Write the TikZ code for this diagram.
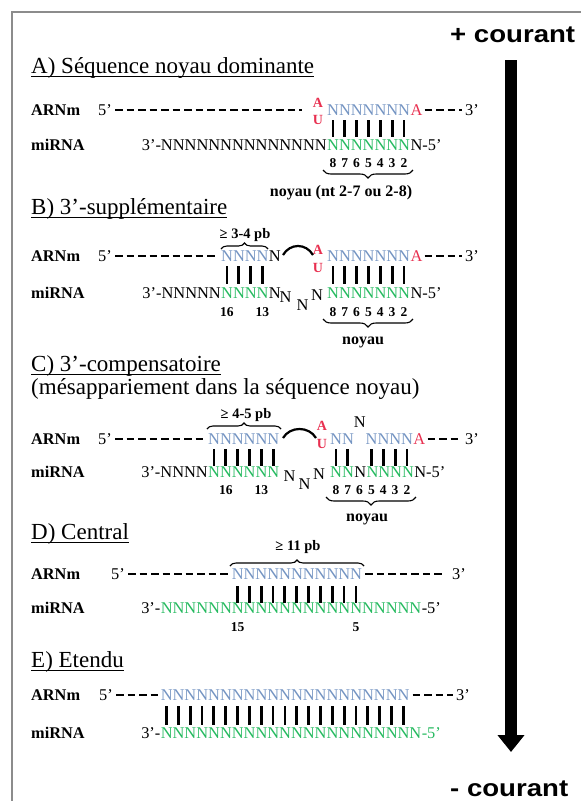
\documentclass[tikz,border=0pt]{standalone}
\usepackage{fontspec}
\setmainfont{Liberation Serif}
\newfontfamily\arialfont{Liberation Sans}
\usetikzlibrary{arrows.meta,decorations.pathreplacing}
\definecolor{mrnaclr}{RGB}{116,148,194}
\definecolor{mirclr}{RGB}{38,186,96}
\definecolor{auclr}{RGB}{232,48,80}
\definecolor{frameclr}{RGB}{140,140,140}
\newcommand{\nts}[1]{\foreach \j in {1,...,#1}{N}}
\def\w{11.84}
\tikzset{
  seq/.style={font=\fontsize{16.4}{18}\selectfont, inner sep=0pt, anchor=base west},
  rowlbl/.style={font=\bfseries\fontsize{16.3}{18}\selectfont, inner sep=0pt, anchor=base west},
  heading/.style={font=\fontsize{23}{26}\selectfont, inner sep=0pt, anchor=base west},
  nbr/.style={font=\bfseries\fontsize{13.5}{14}\selectfont, inner sep=0pt, anchor=base},
  note/.style={font=\bfseries\fontsize{16}{17}\selectfont, inner sep=0pt, anchor=base},
  pb/.style={font=\bfseries\fontsize{14.5}{16}\selectfont, inner sep=0pt, anchor=base},
  au/.style={font=\bfseries\fontsize{14}{15}\selectfont, text=auclr, inner sep=0pt, anchor=base},
  courant/.style={font=\arialfont\bfseries\fontsize{24}{26}\selectfont, inner sep=0pt, anchor=base west},
  backbone/.style={line width=2.1pt, dash pattern=on 7.5pt off 4pt},
  bond/.style={line width=2.8pt},
  loopline/.style={line width=2.2pt},
  uline/.style={line width=1.1pt},
  upbrace/.style={decorate, decoration={brace, amplitude=6pt}, line width=1.1pt},
  downbrace/.style={decorate, decoration={brace, mirror, amplitude=8pt}, line width=1.1pt},
  frameline/.style={frameclr, line width=2.5pt},
  bigarrow/.style={line width=12pt, -{Triangle[width=26pt,length=17pt]}}
}
\begin{document}
\begin{tikzpicture}[x=1pt,y=-1pt]
  \useasboundingbox (0,0) rectangle (581,801);
  \draw[frameline] (581,12) -- (12,12) -- (12,801);
  \node[courant] (plus) at (450,42) {\scalebox{1.15}[1]{+ courant}};
  \node[courant] (minus) at (450,796) {\scalebox{1.15}[1]{- courant}};
  \coordinate (arrtop) at (511,60);
  \coordinate (arrbot) at (511,752);
  \draw[bigarrow] (arrtop) -- (arrbot);

  % A) sequence noyau dominante
  \node[heading] (hA) at (31,73) {A) Séquence noyau dominante};
  \draw[uline] ([yshift=-3.5pt]hA.base west) -- ([yshift=-3.5pt]hA.base east);
  \node[rowlbl] (arnmA) at (31,115) {ARNm};
  \node[rowlbl] (mirA) at (31,150) {miRNA};
  \node[seq] (fiveA) at (98,115) {5’};
  \node[au] (aA) at (318,107) {A};
  \node[au] (uA) at (318,124) {U};
  \node[seq, text=mrnaclr] (seedA) at (327,115) {\nts{7}};
  \node[seq, text=auclr] (endA) at (seedA.base east) {A};
  \node[seq] (threeA) at (465,115) {3’};
  \draw[backbone] ([xshift=3pt,yshift=4.6pt]fiveA.base east) -- ([xshift=-25pt,yshift=4.6pt]seedA.base west);
  \draw[backbone] ([xshift=2pt,yshift=4.6pt]endA.base east) -- ([xshift=-3pt,yshift=4.6pt]threeA.base west);
  \node[seq, anchor=base east] (tailA) at (327,150) {3’-\nts{14}};
  \node[seq, text=mirclr] (gseedA) at (327,150) {\nts{7}};
  \node[seq] (headA) at (gseedA.base east) {N-5’};
  \foreach \k in {1,...,7}
    \draw[bond] ({327+(\k-0.5)*\w},120) -- ({327+(\k-0.5)*\w},137);
  \foreach \n [count=\k] in {8,7,6,5,4,3,2}
    \node[nbr] (nA\n) at ({327+(\k-0.5)*\w},167) {\n};
  \draw[downbrace] (323,170) -- (413,170);
  \node[note] (noyA) at (341,196) {noyau (nt 2-7 ou 2-8)};

  % B) 3'-supplementaire
  \node[heading] (hB) at (31,214) {B) 3’-supplémentaire};
  \draw[uline] ([yshift=-3.5pt]hB.base west) -- ([yshift=-3.5pt]hB.base east);
  \node[pb] (pbB) at (245,238) {≥ 3-4 pb};
  \draw[upbrace] (221,249) -- (268,249);
  \node[rowlbl] (arnmB) at (31,261) {ARNm};
  \node[rowlbl] (mirB) at (31,298) {miRNA};
  \node[seq] (fiveB) at (98,261) {5’};
  \node[seq, text=mrnaclr] (stemB) at (221,261) {\nts{4}};
  \node[seq] (nB) at (stemB.base east) {N};
  \node[au] (aB) at (318,254) {A};
  \node[au] (uB) at (318,272) {U};
  \node[seq, text=mrnaclr] (seedB) at (327,261) {\nts{7}};
  \node[seq, text=auclr] (endB) at (seedB.base east) {A};
  \node[seq] (threeB) at (465,261) {3’};
  \draw[backbone] ([xshift=3pt,yshift=4.6pt]fiveB.base east) -- ([xshift=-3pt,yshift=4.6pt]stemB.base west);
  \draw[backbone] ([xshift=2pt,yshift=4.6pt]endB.base east) -- ([xshift=-3pt,yshift=4.6pt]threeB.base west);
  \draw[loopline] (283,255) .. controls (290,243) and (306,243) .. (313,255);
  \node[seq, anchor=base east] (tailB) at (221,298) {3’-\nts{5}};
  \node[seq, text=mirclr] (gstemB) at (221,298) {\nts{4}};
  \node[seq] (n12B) at (gstemB.base east) {N};
  \node[seq, anchor=base] (l1B) at (285.5,302) {N};
  \node[seq, anchor=base] (l2B) at (302.5,310) {N};
  \node[seq, anchor=base] (l3B) at (317,300) {N};
  \node[seq, text=mirclr] (gseedB) at (327,298) {\nts{7}};
  \node[seq] (headB) at (gseedB.base east) {N-5’};
  \foreach \k in {1,...,4}
    \draw[bond] ({221+(\k-0.5)*\w},266) -- ({221+(\k-0.5)*\w},284);
  \foreach \k in {1,...,7}
    \draw[bond] ({327+(\k-0.5)*\w},266) -- ({327+(\k-0.5)*\w},284);
  \node[nbr] (n16B) at ({221+0.5*\w},316) {16};
  \node[nbr] (n13B) at ({221+3.5*\w},316) {13};
  \foreach \n [count=\k] in {8,7,6,5,4,3,2}
    \node[nbr] (nB\n) at ({327+(\k-0.5)*\w},316) {\n};
  \draw[downbrace] (323,319) -- (413,319);
  \node[note] (noyB) at (363,344) {noyau};

  % C) 3'-compensatoire
  \node[heading] (hC) at (31,371) {C) 3’-compensatoire};
  \draw[uline] ([yshift=-3.5pt]hC.base west) -- ([yshift=-3.5pt]hC.base east);
  \node[heading] (hC2) at (31,394) {(mésappariement dans la séquence noyau)};
  \node[pb] (pbC) at (246,418) {≥ 4-5 pb};
  \draw[upbrace] (207,429) -- (281,429);
  \node[rowlbl] (arnmC) at (31,444) {ARNm};
  \node[rowlbl] (mirC) at (31,477) {miRNA};
  \node[seq] (fiveC) at (98,444) {5’};
  \node[seq, text=mrnaclr] (stemC) at (208,444) {\nts{6}};
  \node[au] (aC) at (322,430) {A};
  \node[au] (uC) at (322,448) {U};
  \node[seq, text=mrnaclr] (seedC) at (330,444) {NN};
  \node[seq] (mmC) at ({330+2*\w},427) {N};
  \node[seq, text=mrnaclr] (seedCb) at ({330+3*\w},444) {NNNN};
  \node[seq, text=auclr] (endC) at (seedCb.base east) {A};
  \node[seq] (threeC) at (465,444) {3’};
  \draw[backbone] ([xshift=3pt,yshift=4.6pt]fiveC.base east) -- ([xshift=-3pt,yshift=4.6pt]stemC.base west);
  \draw[backbone] ([xshift=2pt,yshift=4.6pt]endC.base east) -- ([xshift=-3pt,yshift=4.6pt]threeC.base west);
  \draw[loopline] (283,438) .. controls (290,426) and (309,426) .. (316,438);
  \node[seq, anchor=base east] (tailC) at (208,477) {3’-\nts{4}};
  \node[seq, text=mirclr] (gstemC) at (208,477) {\nts{6}};
  \node[seq, anchor=base] (l1C) at (289.5,481) {N};
  \node[seq, anchor=base] (l2C) at (304.5,489) {N};
  \node[seq, anchor=base] (l3C) at (319,479) {N};
  \node[seq, text=mirclr] (gseedC) at (330,477) {NN};
  \node[seq] (n6C) at (gseedC.base east) {N};
  \node[seq, text=mirclr] (gseedCb) at (n6C.base east) {NNNN};
  \node[seq] (headC) at (gseedCb.base east) {N-5’};
  \foreach \k in {1,...,6}
    \draw[bond] ({208+(\k-0.5)*\w},449) -- ({208+(\k-0.5)*\w},466);
  \foreach \k in {1,2,4,5,6,7}
    \draw[bond] ({330+(\k-0.5)*\w},449) -- ({330+(\k-0.5)*\w},466);
  \node[nbr] (n16C) at ({208+1.5*\w},494) {16};
  \node[nbr] (n13C) at ({208+4.5*\w},494) {13};
  \foreach \n [count=\k] in {8,7,6,5,4,3,2}
    \node[nbr] (nC\n) at ({330+(\k-0.5)*\w},494) {\n};
  \draw[downbrace] (326,497) -- (416,497);
  \node[note] (noyC) at (367,521) {noyau};

  % D) central
  \node[heading] (hD) at (31,539) {D) Central};
  \draw[uline] ([yshift=-3.5pt]hD.base west) -- ([yshift=-3.5pt]hD.base east);
  \node[pb] (pbD) at (298,550) {≥ 11 pb};
  \draw[upbrace] (230,566) -- (364,566);
  \node[rowlbl] (arnmD) at (31,579) {ARNm};
  \node[rowlbl] (mirD) at (31,613) {miRNA};
  \node[seq] (fiveD) at (111,579) {5’};
  \node[seq, text=mrnaclr] (midD) at (231.6,579) {\nts{11}};
  \node[seq] (threeD) at (452,579) {3’};
  \draw[backbone] ([xshift=3pt,yshift=4.6pt]fiveD.base east) -- ([xshift=-3pt,yshift=4.6pt]midD.base west);
  \draw[backbone] ([xshift=3pt,yshift=4.6pt]midD.base east) -- ([xshift=-8pt,yshift=4.6pt]threeD.base west);
  \node[seq, anchor=base east] (tailD) at (160.6,613) {3’-};
  \node[seq, text=mirclr] (gD) at (160.6,613) {\nts{22}};
  \node[seq] (headD) at (gD.base east) {-5’};
  \foreach \k in {1,...,11}
    \draw[bond] ({231.6+(\k-0.5)*\w},586) -- ({231.6+(\k-0.5)*\w},603);
  \node[nbr] (n15D) at ({231.6+0.5*\w},631) {15};
  \node[nbr] (n5D) at ({231.6+10.5*\w},631) {5};

  % E) etendu
  \node[heading] (hE) at (31,667) {E) Etendu};
  \draw[uline] ([yshift=-3.5pt]hE.base west) -- ([yshift=-3.5pt]hE.base east);
  \node[rowlbl] (arnmE) at (31,700) {ARNm};
  \node[rowlbl] (mirE) at (31,738) {miRNA};
  \node[seq] (fiveE) at (99,700) {5’};
  \node[seq, text=mrnaclr] (midE) at (160.6,700) {\nts{21}};
  \node[seq] (threeE) at (456,700) {3’};
  \draw[backbone] ([xshift=3pt,yshift=4.6pt]fiveE.base east) -- ([xshift=-3pt,yshift=4.6pt]midE.base west);
  \draw[backbone] ([xshift=3pt,yshift=4.6pt]midE.base east) -- ([xshift=-3pt,yshift=4.6pt]threeE.base west);
  \node[seq, anchor=base east] (tailE) at (160.6,738) {3’-};
  \node[seq, text=mirclr] (gE) at (160.6,738) {\nts{22}};
  \node[seq, text=mirclr] (headE) at (gE.base east) {-5’};
  \foreach \k in {1,...,21}
    \draw[bond] ({160.6+(\k-0.5)*\w},706) -- ({160.6+(\k-0.5)*\w},725);
\end{tikzpicture}
\end{document}
